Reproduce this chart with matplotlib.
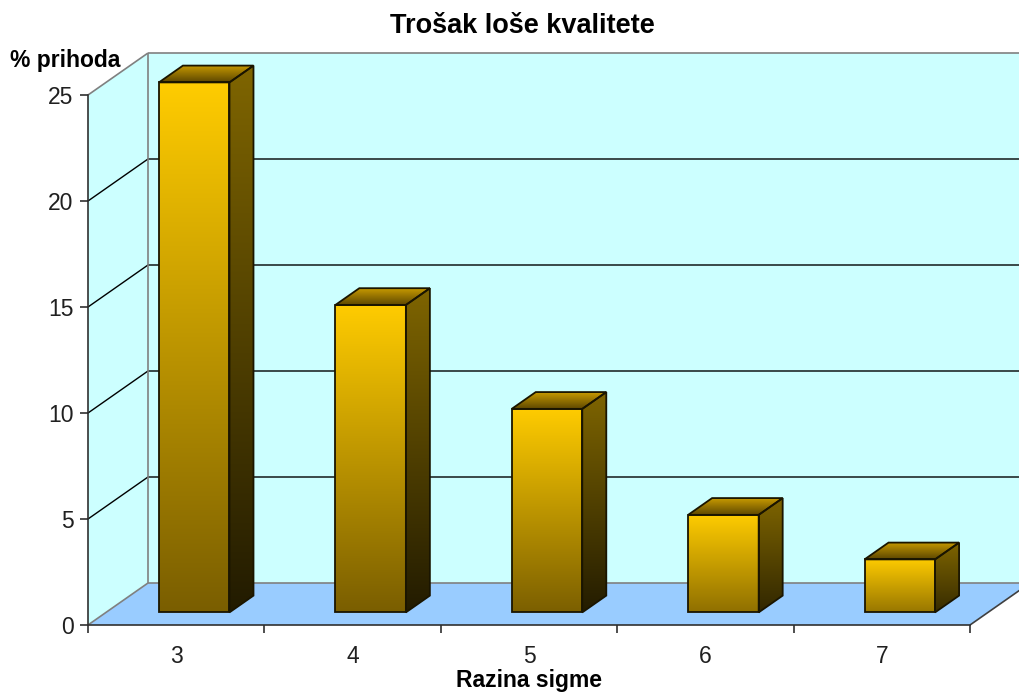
import numpy as np
import matplotlib
matplotlib.use("Agg")
import matplotlib.pyplot as plt
from matplotlib.patches import Polygon
from matplotlib.colors import to_rgb

# ---- data ----
categories = ['3', '4', '5', '6', '7']
values = [25, 14.5, 9.6, 4.6, 2.5]
yticks = [0, 5, 10, 15, 20, 25]
title = 'Trošak loše kvalitete'
ylabel = '% prihoda'
xlabel = 'Razina sigme'

W, H = 1019, 697
DPI = 100
fig = plt.figure(figsize=(W / DPI, H / DPI), dpi=DPI)
ax = fig.add_axes([0, 0, 1, 1])
plt.rcParams['font.family'] = ['Liberation Sans', 'DejaVu Sans']

# oblique 3D projection (category units, value units)
PX_C = 176.4      # px per category
PX_V = 21.2       # px per value unit
X0, Y0 = 88, 625  # pixel of origin
DX = 60 / PX_C    # depth offset in category units
DY = 42 / PX_V    # depth offset in value units
n = len(categories)
vmax = yticks[-1]

def P(c, v, d):
    return (c + d * DX, v + d * DY)

wall_col = '#CCFFFF'
floor_col = '#99CCFF'
grey = '#808080'

# left wall
ax.add_patch(Polygon([P(0, 0, 0), P(0, 0, 1), P(0, vmax, 1), P(0, vmax, 0)],
                     closed=True, facecolor=wall_col, edgecolor='none', zorder=1))
# back wall
ax.add_patch(Polygon([P(0, 0, 1), P(n, 0, 1), P(n, vmax, 1), P(0, vmax, 1)],
                     closed=True, facecolor=wall_col, edgecolor='none', zorder=1))
# floor
ax.add_patch(Polygon([P(0, 0, 0), P(n, 0, 0), P(n, 0, 1), P(0, 0, 1)],
                     closed=True, facecolor=floor_col, edgecolor='none', zorder=1))

# gridlines
for v in yticks[1:-1]:
    a, b, c2 = P(0, v, 0), P(0, v, 1), P(n, v, 1)
    ax.plot([a[0], b[0], c2[0]], [a[1], b[1], c2[1]], color='black', lw=1.0, zorder=2)

# wall borders
def seg(p, q, col=grey, lw=1.2, z=2):
    ax.plot([p[0], q[0]], [p[1], q[1]], color=col, lw=lw, zorder=z, solid_capstyle='butt')

seg(P(0, vmax, 0), P(0, vmax, 1))
seg(P(0, vmax, 1), P(n, vmax, 1))
seg(P(0, 0, 1), P(0, vmax, 1))
seg(P(0, 0, 0), P(0, 0, 1))
seg(P(0, 0, 1), P(n, 0, 1))
seg(P(n, 0, 0), P(n, 0, 1), col='#404040')

def lerp(c1, c2, t):
    a = np.array(to_rgb(c1)); b = np.array(to_rgb(c2))
    return a + (b - a) * t

def grad_poly(pts, top_col, bot_col, z):
    pts = np.array(pts)
    poly = Polygon(pts, closed=True, facecolor='none', edgecolor='#1A1500', lw=1.3, zorder=z + 0.5)
    ax.add_patch(poly)
    xmin, xmax = pts[:, 0].min(), pts[:, 0].max()
    ymin, ymax = pts[:, 1].min(), pts[:, 1].max()
    t = np.linspace(0, 1, 256)[:, None]
    top = np.array(top_col); bot = np.array(bot_col)
    img = top[None, None, :] * (1 - t[:, :, None]) + bot[None, None, :] * t[:, :, None]
    im = ax.imshow(img, extent=[xmin, xmax, ymin, ymax], origin='upper',
                   aspect='auto', interpolation='bilinear', zorder=z)
    im.set_clip_path(poly)

bw0, bw1 = 0.3, 0.7
d0, d1 = 0.3, 0.7
for i, v in enumerate(values):
    f = 0.7 + 0.3 * min(1.0, v / 10.0)
    c0, c1 = i + bw0, i + bw1
    z = 5 + i
    # front face
    grad_poly([P(c0, 0, d0), P(c1, 0, d0), P(c1, v, d0), P(c0, v, d0)],
              to_rgb('#FFCC00'), lerp('#FFCC00', '#7A5E00', f), z)
    # right side face
    grad_poly([P(c1, 0, d0), P(c1, 0, d1), P(c1, v, d1), P(c1, v, d0)],
              to_rgb('#7F6500'), lerp('#7F6500', '#221B00', f), z)
    # top face
    grad_poly([P(c0, v, d0), P(c1, v, d0), P(c1, v, d1), P(c0, v, d1)],
              to_rgb('#C89B00'), to_rgb('#5E4700'), z)

# axes / spines
for s in ['top', 'right']:
    ax.spines[s].set_visible(False)
ax.spines['left'].set_position(('data', 0))
ax.spines['bottom'].set_position(('data', 0))
ax.spines['left'].set_bounds(0, vmax)
ax.spines['bottom'].set_bounds(0, n)
for s in ['left', 'bottom']:
    ax.spines[s].set_color('#303030')
    ax.spines[s].set_linewidth(1.2)
    ax.spines[s].set_zorder(20)

ax.set_yticks(yticks)
ax.set_yticklabels([str(t) for t in yticks])
ax.tick_params(axis='y', direction='out', length=5.5, width=1.2, color='#303030',
               pad=5, labelsize=16.5, labelcolor='#202020')
ax.set_xticks(range(n + 1))
ax.set_xticklabels([])
ax.set_xticks([i + 0.5 for i in range(n)], minor=True)
ax.set_xticklabels(categories, minor=True)
ax.tick_params(axis='x', which='major', direction='out', length=6, width=1.2, color='#303030')
ax.tick_params(axis='x', which='minor', length=0, pad=14.5, labelsize=16.5, labelcolor='#202020')

ax.set_xlim(-X0 / PX_C, (W - X0) / PX_C)
ax.set_ylim(-(H - Y0) / PX_V, Y0 / PX_V)
ax.patch.set_visible(False)

fig.text(522 / W, 1 - 33 / H, title, ha='center', va='baseline',
         fontsize=19.5, fontweight='bold')
fig.text(10 / W, 1 - 67 / H, ylabel, ha='left', va='baseline',
         fontsize=16.5, fontweight='bold')
fig.text(529 / W, 1 - 687 / H, xlabel, ha='center', va='baseline',
         fontsize=16.5, fontweight='bold')

fig.savefig('out.png', dpi=DPI, facecolor='white')
